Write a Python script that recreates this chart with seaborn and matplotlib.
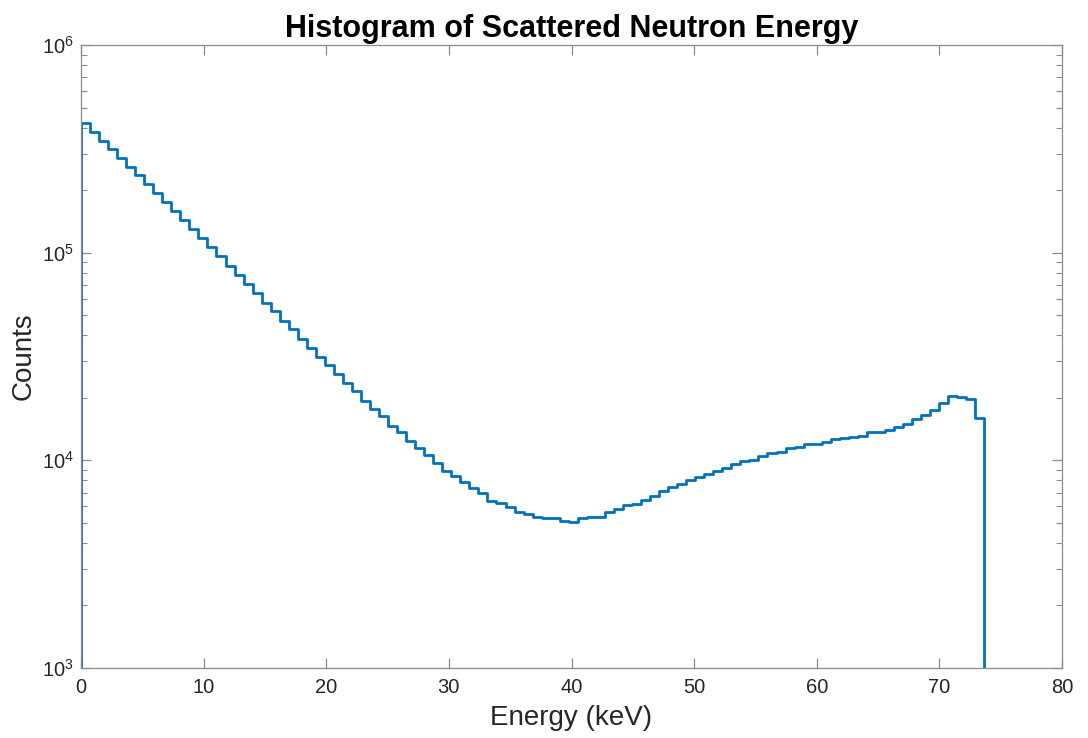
import numpy as np
import pandas as pd
import matplotlib
matplotlib.use("Agg")
import matplotlib.pyplot as plt
import matplotlib.ticker as mticker
import seaborn as sns

# ---- data ----
e_min, e_max, n_bins = 0.0, 73.66, 100
counts = [
    419000, 380700, 345700, 314400, 285400, 259200, 235600, 213900, 193600, 175200,
    158600, 143600, 129900, 117600, 106400, 95980, 86690, 78020, 70610, 63680,
    57400, 52170, 47000, 42730, 38590, 34930, 31530, 28670, 26030, 23640,
    21490, 19360, 17720, 16430, 14680, 13640, 12380, 11430, 10600, 9674,
    8882, 8402, 7889, 7333, 6937, 6391, 6251, 5939, 5655, 5514,
    5351, 5274, 5257, 5102, 5029, 5257, 5315, 5362, 5637, 5841,
    6093, 6147, 6477, 6769, 7140, 7423, 7733, 8056, 8310, 8590,
    8882, 9162, 9630, 9977, 10080, 10450, 10900, 10960, 11430, 11580,
    11940, 12020, 12250, 12620, 12830, 12950, 13090, 13640, 13730, 14040,
    14420, 15010, 15750, 16470, 17520, 18940, 20400, 20240, 19670, 15930,
]
x_ticks = [0, 10, 20, 30, 40, 50, 60, 70, 80]
y_ticks = [1e3, 1e4, 1e5, 1e6]
title = "Histogram of Scattered Neutron Energy"
x_label = "Energy (keV)"
y_label = "Counts"

edges = np.linspace(e_min, e_max, n_bins + 1)
centers = 0.5 * (edges[:-1] + edges[1:])
df = pd.DataFrame({"energy": centers, "count": counts})

# ---- style ----
sns.set_theme(style="ticks")
plt.rcParams["font.family"] = ["Liberation Sans", "DejaVu Sans"]
plt.rcParams["mathtext.fontset"] = "custom"
plt.rcParams["mathtext.rm"] = "Liberation Sans"
plt.rcParams["mathtext.it"] = "Liberation Sans:italic"
plt.rcParams["mathtext.bf"] = "Liberation Sans:bold"

line_color = "#0072BD"
axis_color = "#8c8c8c"
text_color = "#262626"

fig = plt.figure(figsize=(10.88, 7.38), dpi=100)
ax = fig.add_axes([81 / 1088, 1 - 668 / 738, (1062 - 81) / 1088, (668 - 45) / 738])

sns.histplot(data=df, x="energy", weights="count", bins=list(edges), element="step",
             fill=False, color=line_color, linewidth=2.0, ax=ax)
ax.set_yscale("log")
ax.set_xlim(0, 80)
ax.set_ylim(1e3, 1e6)
# outer drops of the stairs down to the axis floor
ax.vlines([edges[0], edges[-1]], ax.get_ylim()[0], [counts[0], counts[-1]],
          color=line_color, linewidth=2.0)

ax.set_xticks(x_ticks)
ax.set_yticks(y_ticks)
ax.yaxis.set_major_formatter(mticker.LogFormatterSciNotation())
ax.yaxis.set_minor_locator(mticker.LogLocator(base=10, subs=np.arange(2, 10)))
ax.yaxis.set_minor_formatter(mticker.NullFormatter())

for side in ["left", "right", "top", "bottom"]:
    ax.spines[side].set_visible(True)
    ax.spines[side].set_color(axis_color)
    ax.spines[side].set_linewidth(0.9)

ax.tick_params(which="both", direction="in", top=True, right=True,
               color=axis_color, labelcolor=text_color, labelsize=14.5)
ax.tick_params(which="major", length=7.5, width=0.9)
ax.tick_params(which="minor", length=4, width=0.8)
ax.tick_params(axis="x", which="major", pad=7)
ax.tick_params(axis="y", which="major", pad=5)

ax.set_title(title, fontsize=22, fontweight="bold", color="black", pad=6)
ax.set_xlabel(x_label, fontsize=20, color=text_color, labelpad=6)
ax.set_ylabel(y_label, fontsize=20, color=text_color, labelpad=4)
ax.grid(False)

fig.savefig("out.png", dpi=100, facecolor="white")
